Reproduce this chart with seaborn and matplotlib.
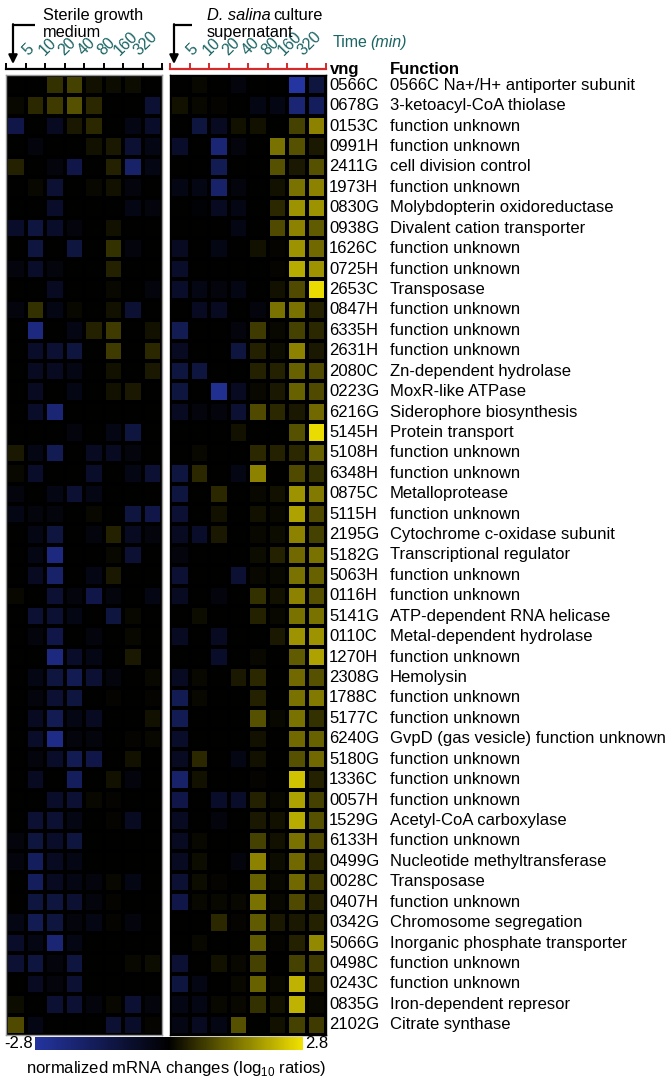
import numpy as np
import pandas as pd
import matplotlib
matplotlib.use('Agg')
import matplotlib.pyplot as plt
import matplotlib.colors as mcolors
import matplotlib.transforms as mtransforms
import seaborn as sns

# Gene identifiers (vng numbers) and their annotated functions
genes = ['0566C', '0678G', '0153C', '0991H', '2411G', '1973H', '0830G', '0938G', '1626C', '0725H',
         '2653C', '0847H', '6335H', '2631H', '2080C', '0223G', '6216G', '5145H', '5108H', '6348H',
         '0875C', '5115H', '2195G', '5182G', '5063H', '0116H', '5141G', '0110C', '1270H', '2308G',
         '1788C', '5177C', '6240G', '5180G', '1336C', '0057H', '1529G', '6133H', '0499G', '0028C',
         '0407H', '0342G', '5066G', '0498C', '0243C', '0835G', '2102G']

functions = ['0566C Na+/H+ antiporter subunit', '3-ketoacyl-CoA thiolase', 'function unknown',
             'function unknown', 'cell division control', 'function unknown',
             'Molybdopterin oxidoreductase', 'Divalent cation transporter', 'function unknown',
             'function unknown', 'Transposase', 'function unknown', 'function unknown',
             'function unknown', 'Zn-dependent hydrolase', 'MoxR-like ATPase',
             'Siderophore biosynthesis', 'Protein transport', 'function unknown', 'function unknown',
             'Metalloprotease', 'function unknown', 'Cytochrome c-oxidase subunit',
             'Transcriptional regulator', 'function unknown', 'function unknown',
             'ATP-dependent RNA helicase', 'Metal-dependent hydrolase', 'function unknown',
             'Hemolysin', 'function unknown', 'function unknown',
             'GvpD (gas vesicle) function unknown', 'function unknown', 'function unknown',
             'function unknown', 'Acetyl-CoA carboxylase', 'function unknown',
             'Nucleotide methyltransferase', 'Transposase', 'function unknown',
             'Chromosome segregation', 'Inorganic phosphate transporter', 'function unknown',
             'function unknown', 'Iron-dependent represor', 'Citrate synthase']

# Time points (minutes); the first column is time 0 (marked by the arrow)
time_points = [0, 5, 10, 20, 40, 80, 160, 320]
time_labels = ['', '5', '10', '20', '40', '80', '160', '320']

# log10 ratios - sterile growth medium
sterile_vals = [
    [0, 0, 0.6, 0.8, 0.2, 0.15, 0.15, 0],
    [0.1, 0.5, 0.7, 1.0, 0.5, 0, 0, -0.9],
    [-1.25, 0, -0.55, 0.3, 0.5, 0, -0.35, -0.7],
    [0, -0.2, 0, 0, 0.2, 0.3, -0.9, -0.35],
    [0.4, 0, -0.2, -1.25, 0, 0.4, -1.8, -0.35],
    [0, 0.1, -0.9, 0, 0.1, 0.2, -0.2, 0],
    [0, 0, -0.7, 0, 0, 0, -0.35, -0.2],
    [-0.7, -1.1, -0.7, -0.2, 0, 0.2, 0, 0],
    [0, -1.1, 0, -1.1, 0, 0.6, -0.2, 0],
    [-0.2, -0.7, -0.2, 0, 0, 0.4, 0, 0],
    [0, 0, -0.55, 0, 0, 0.1, 0, -0.2],
    [-0.2, 0.6, -0.35, 0.1, 0, 0.2, -0.9, 0],
    [0, -2.2, 0, -0.35, 0.4, 0.7, 0, 0.2],
    [0, -0.7, -0.9, -1.1, 0, 0.7, 0, 0.5],
    [0, -0.55, -0.55, -0.35, 0, 0.2, 0, 0.3],
    [0, -0.55, 0, -0.35, 0, 0.2, 0.3, 0],
    [0, -0.7, -2.0, 0, 0, 0, 0, 0],
    [0, 0, 0, -0.2, 0, -0.35, -1.1, 0],
    [0.3, -0.35, -1.45, 0, -0.55, -0.55, -0.2, 0],
    [0.1, -0.7, 0, 0, -0.7, 0, -0.35, -0.9],
    [-0.2, 0, -0.35, -0.9, -0.35, 0, 0, 0],
    [-0.35, -0.2, -0.2, 0, 0.1, 0, -1.1, -1.25],
    [0, -0.35, -1.1, 0, -0.2, 0.4, -0.55, -0.2],
    [0, -0.35, -2.2, 0, 0, 0.1, -0.9, 0],
    [0, -0.55, -1.8, 0, -0.35, 0.3, 0, 0],
    [0.1, 0, -0.9, -0.2, -1.25, -0.2, 0, -0.35],
    [0, -0.9, -0.9, -0.35, 0, -1.1, 0.1, 0],
    [0, -0.2, -1.25, 0, -0.2, 0, 0.1, 0],
    [0, 0, -2.2, -0.7, -0.35, 0, 0.3, 0],
    [0, -0.35, -1.1, -1.45, -0.9, -0.2, 0, 0.1],
    [0, -0.2, -0.9, -1.1, 0, 0.05, 0, 0.05],
    [0, -0.55, -1.45, -0.35, -0.55, 0, 0, 0.2],
    [0, -0.7, -2.35, -0.2, -0.2, 0, 0.05, 0.1],
    [0, -0.2, -0.7, -1.45, -1.25, 0, 0.2, 0],
    [0, -0.55, 0, -1.6, 0, 0.2, -0.2, 0],
    [0, 0, -0.7, -0.9, 0.1, 0.05, 0, 0],
    [0, -0.9, -0.9, -0.35, 0, 0.05, -0.55, 0],
    [-0.2, -1.1, -0.7, -1.1, 0, 0, 0, 0],
    [-0.2, -1.6, -0.55, -0.35, 0, 0, 0, 0],
    [0, -1.6, -0.55, -0.35, -0.2, 0.1, -0.35, 0],
    [0, -1.1, -1.1, -0.9, -0.2, 0.05, 0, 0],
    [-0.35, -1.45, -1.1, -0.2, -0.35, 0.05, -0.2, 0],
    [-0.7, -0.35, -2.0, -0.35, 0, 0, 0, 0],
    [-0.9, -1.1, -0.2, -1.1, 0, 0, 0.1, 0.15],
    [0, -0.55, -0.2, -0.9, 0, 0, 0, 0],
    [0.15, 0, -0.9, -0.9, -0.2, 0.1, -0.9, -0.2],
    [0.9, -0.35, 0, 0, 0, -0.9, -0.7, 0.05],
]

# log10 ratios - D. salina culture supernatant
dsalina_vals = [
    [0, 0.1, 0, -0.2, 0, 0, -2.8, -1.1],
    [0.2, 0.1, 0.05, 0, -0.35, -0.35, -2.0, -1.6],
    [0, -1.1, -0.55, 0.2, 0.2, 0, 0.8, 1.6],
    [-0.7, 0, -2.0, -0.2, 0, 1.4, 1.0, 0.3],
    [0, 0, -1.45, 0, 0, 1.0, 0.3, 1.0],
    [-0.35, -0.35, -1.8, -0.2, 0, 0.2, 1.4, 1.6],
    [0, -0.1, -0.55, -0.35, 0, 0.5, 1.8, 1.8],
    [0, 0, 0, -0.35, 0, 0.9, 1.6, 1.1],
    [-0.55, 0, -0.35, 0, 0.2, 0.05, 1.8, 1.3],
    [-0.7, 0, 0, 0, 0, 0.05, 2.1, 1.8],
    [-0.7, -0.35, -0.2, -0.35, 0, 0.2, 0.9, 2.7],
    [0, -0.55, -0.55, 0, -0.2, 1.4, 1.4, 0.4],
    [-1.45, 0, 0, -0.2, 0.7, 0.1, 0.8, 0.5],
    [-0.55, 0, 0, -1.1, 0.4, 0.15, 1.6, 0.3],
    [-1.1, -1.1, 0, 0, 0.4, 0.4, 1.2, 0.9],
    [-1.1, 0, -2.5, -0.55, 0.1, 0.3, 1.2, 0.9],
    [-0.55, -0.2, -0.2, -0.9, 0.9, 0.5, 0.3, 1.3],
    [0, 0, 0, 0.2, 0, 0, 1.0, 2.7],
    [0, 0.1, 0, 0, 0.5, 0.4, 0.5, 1.2],
    [-1.1, 0.5, 0, -0.35, 1.6, 0, 0.9, 0.6],
    [-1.1, 0, 0.5, 0, 0.1, 0.2, 1.8, 1.5],
    [-0.9, 0, 0.2, 0, 0.2, 0.1, 2.0, 0.9],
    [-0.55, -0.7, 0.3, 0, 0.1, 0.15, 1.6, 0.8],
    [-0.2, 0, 0, 0, 0.15, 0.4, 1.3, 1.4],
    [-0.9, 0, 0, -0.9, 0.1, 0.1, 1.4, 1.2],
    [-0.55, 0, -0.2, 0, 0.6, 0.2, 1.6, 1.0],
    [0, 0.15, 0, 0, 0.4, 0.1, 1.4, 1.4],
    [-0.55, 0, -0.55, 0, 0, 0.3, 1.8, 1.8],
    [0, 0, -0.7, 0, 0.1, 0, 1.1, 2.0],
    [-0.55, 0.1, 0, 0.3, 0.5, 0, 1.3, 1.0],
    [-1.45, 0.1, 0, 0, 0.4, 0, 1.4, 1.5],
    [-1.45, 0, 0, 0, 1.0, 0.1, 1.4, 0.6],
    [-0.7, 0, 0, 0, 0.2, 0, 1.3, 1.2],
    [-0.55, 0.5, 0, -0.35, 0.2, 0, 1.0, 1.3],
    [-1.8, 0.2, 0, 0, 0.05, 0, 2.4, 0.4],
    [-1.25, 0, -0.7, -0.7, 0.4, 0.1, 2.0, 0.8],
    [-0.55, 0, -0.2, 0, 0.3, 0.2, 2.1, 1.0],
    [-0.55, 0.1, 0, 0, 0.8, 0.2, 1.4, 0.9],
    [-0.55, 0.15, 0, -0.2, 1.6, 0.15, 1.3, 0.5],
    [-0.9, 0.15, 0.05, 0, 1.2, 0.1, 1.3, 0.7],
    [-1.25, 0.1, 0.1, 0.1, 1.4, 0.1, 0.9, 0.4],
    [0, 0, 0.5, 0.05, 1.1, 0.3, 0.3, 0.4],
    [0, 0.1, 0, 0, 1.1, 0.05, 0.4, 1.7],
    [-0.9, 0, 0.2, 0.1, 0.8, 0, 0.8, 0.7],
    [-1.1, -0.35, 0, 0.1, 1.2, 0.1, 2.2, 0.4],
    [-0.35, -0.35, 0.1, 0.1, 0.6, 0.2, 2.2, 0.1],
    [-0.35, -0.55, -0.35, 1.0, 0, 0.2, 0.8, 0.7],
]

# Style and fonts (set after seaborn style so it is not overwritten)
sns.set_style('white')
plt.rcParams['font.family'] = ['Liberation Sans', 'DejaVu Sans']
plt.rcParams['text.color'] = 'black'
plt.rcParams['mathtext.fontset'] = 'custom'
plt.rcParams['mathtext.rm'] = 'Liberation Sans'

W, H = 669, 1082
teal = '#1b6463'

def px(x0, y0, w, h):
    # Convert a pixel box (top-left origin) to figure fractions
    return [x0 / W, 1 - (y0 + h) / H, w / W, h / H]

# Blue - black - yellow colormap
cmap = mcolors.LinearSegmentedColormap.from_list(
    'blue_yellow', [(0.0, '#2434a0'), (0.5, '#000000'), (1.0, '#f2e200')])

df_sterile = pd.DataFrame(sterile_vals, index=genes, columns=time_points)
df_dsalina = pd.DataFrame(dsalina_vals, index=genes, columns=time_points)

fig = plt.figure(figsize=(W / 100, H / 100), dpi=100)

ax_left = fig.add_axes(px(6, 75, 156, 960))
ax_right = fig.add_axes(px(170, 75, 156, 960))
cax = fig.add_axes(px(35, 1037, 268, 13))

sns.heatmap(df_sterile, ax=ax_left, cmap=cmap, vmin=-2.8, vmax=2.8, cbar=False,
            linewidths=1.6, linecolor='black', xticklabels=False, yticklabels=False)
sns.heatmap(df_dsalina, ax=ax_right, cmap=cmap, vmin=-2.8, vmax=2.8, cbar=True, cbar_ax=cax,
            cbar_kws={'orientation': 'horizontal'},
            linewidths=1.6, linecolor='black', xticklabels=False, yticklabels=False)

for ax, edge in [(ax_left, '#9a9a9a'), (ax_right, 'black')]:
    ax.set_xlabel('')
    ax.set_ylabel('')
    for s in ax.spines.values():
        s.set_visible(True)
        s.set_color(edge)
        s.set_linewidth(1.0)

# Colorbar styling
cax.set_xticks([])
cax.set_yticks([])
cbar = ax_right.collections[0].colorbar
if cbar is not None:
    cbar.outline.set_visible(False)

# Time axes above each heatmap (bottom spine only, ticks pointing up)
for x0, col in [(6, 'black'), (170, '#d42a2a')]:
    tax = fig.add_axes(px(x0, 40, 156, 29))
    tax.set_xlim(0, 8)
    tax.set_ylim(0, 1)
    tax.patch.set_alpha(0)
    for side in ['top', 'left', 'right']:
        tax.spines[side].set_visible(False)
    tax.spines['bottom'].set_color(col)
    tax.spines['bottom'].set_linewidth(1.6)
    tax.set_xticks(np.arange(9))
    tax.set_xticklabels([])
    tax.set_yticks([])
    tax.tick_params(axis='x', direction='in', length=4, width=1.4, colors=col, bottom=True)
    for j, lab in enumerate(time_labels):
        if lab:
            tax.text(j + 0.5 - 0.35, 0.36, lab, rotation=45, ha='center', va='bottom',
                     fontsize=11.5, color=teal)

# Row labels: vng ids and functions
trans = mtransforms.blended_transform_factory(ax_right.transAxes, ax_right.transData)
for i, (g, f) in enumerate(zip(genes, functions)):
    ax_right.text(1.02, i + 0.5, g, transform=trans, ha='left', va='center', fontsize=12)
    ax_right.text(1.41, i + 0.5, f, transform=trans, ha='left', va='center', fontsize=12)

# Overlay in pixel coordinates for headers and arrows
ov = fig.add_axes([0, 0, 1, 1])
ov.set_xlim(0, W)
ov.set_ylim(H, 0)
ov.axis('off')
ov.patch.set_alpha(0)

ov.text(43, 20, 'Sterile growth', fontsize=11.8, va='baseline')
ov.text(43, 37, 'medium', fontsize=11.8, va='baseline')
ov.text(207, 20, 'D. salina', fontsize=11.8, va='baseline', style='italic')
ov.text(273, 20, 'culture', fontsize=11.8, va='baseline')
ov.text(207, 37, 'supernatant', fontsize=11.8, va='baseline')
ov.text(333, 47, 'Time', fontsize=11.5, va='baseline', color=teal)
ov.text(370, 47, '(min)', fontsize=11.5, va='baseline', color=teal, style='italic')
ov.text(330, 74, 'vng', fontsize=12, va='baseline', fontweight='bold')
ov.text(390, 74, 'Function', fontsize=12, va='baseline', fontweight='bold')

for xh, xv in [(35, 13), (192, 174)]:
    ov.plot([xh, xv], [25, 25], color='black', lw=1.6, solid_capstyle='butt')
    ov.annotate('', xy=(xv, 64), xytext=(xv, 24.2),
                arrowprops=dict(arrowstyle='-|>', lw=1.6, color='black', mutation_scale=13,
                                shrinkA=0, shrinkB=0))

# Colorbar end labels and title
ov.text(33, 1044, '-2.8', fontsize=12, ha='right', va='center')
ov.text(305, 1044, '2.8', fontsize=12, ha='left', va='center')
ov.text(176, 1073, r'normalized mRNA changes (log$_{\mathregular{10}}$ ratios)', fontsize=12,
        ha='center', va='baseline')

fig.savefig('out.png', dpi=100)
